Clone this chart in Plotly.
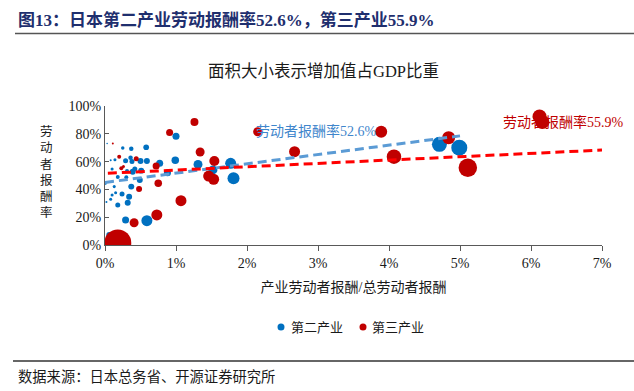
import plotly.graph_objects as go

# ---------------- data ----------------
# 第二产业: x = 产业劳动者报酬/总劳动者报酬 (%), y = 劳动者报酬率 (%), s = 增加值占GDP比重 (%)
sec_x = [0.06, 0.29, 0.59, 0.18, 0.32, 0.34, 0.24, 0.15, 0.10, 0.08, 0.02, 0.13, 0.37, 0.01,
         0.18, 0.49, 0.30, 0.10, 0.31, 0.39, 0.42, 0.51, 0.88, 0.08, 0.14, 0.29, 0.36, 0.38,
         0.50, 0.59, 0.77, 0.99, 0.25, 0.37, 0.58, 1.00, 1.31, 1.52, 1.77, 1.81, 4.71, 4.99, 0.03]
sec_y = [7.2, 18.0, 17.5, 28.8, 30.4, 34.7, 36.7, 37.6, 36.0, 32.9, 31.0, 42.0, 42.0, 44.0,
         49.0, 46.8, 48.7, 54.7, 53.2, 52.7, 54.7, 53.5, 52.0, 61.0, 61.4, 60.6, 62.8, 60.0,
         60.4, 60.4, 58.8, 61.0, 69.8, 69.3, 70.3, 78.2, 58.0, 54.0, 58.8, 48.0, 72.4, 70.0, 73.0]
sec_s = [0.59, 0.81, 1.99, 0.41, 0.59, 0.59, 0.41, 0.15, 0.15, 0.15, 0.066, 0.15, 0.59, 0.066,
         0.26, 0.59, 0.26, 0.15, 0.26, 0.59, 0.41, 0.59, 0.81, 0.066, 0.15, 0.41, 0.33, 0.41,
         0.59, 0.59, 0.81, 0.93, 0.20, 0.33, 0.53, 0.81, 1.33, 1.33, 1.99, 2.37, 3.70, 4.21, 0.037]

# 第三产业
ter_x = [0.18, 0.41, 0.73, 1.07, 0.48, 0.75, 0.23, 0.20, 0.11, 0.44, 0.72, 0.91, 1.26,
         1.34, 1.54, 1.46, 1.53, 2.15, 2.67, 3.89, 4.07, 4.84, 5.11, 6.12, 6.16, 0.26]
ter_y = [1.5, 16.0, 21.6, 31.9, 40.3, 44.4, 55.2, 63.5, 73.0, 62.0, 56.8, 81.0, 88.5,
         66.9, 60.4, 49.6, 47.3, 81.5, 67.1, 81.5, 63.5, 77.2, 55.6, 92.5, 88.5, 56.5]
ter_s = [12.0, 1.33, 1.99, 1.99, 0.59, 0.93, 0.26, 0.26, 0.066, 0.41, 0.81, 0.81, 1.05,
         1.33, 1.65, 1.99, 1.99, 1.33, 1.99, 2.37, 3.46, 2.78, 5.63, 3.23, 3.23, 0.15]

# trend lines (endpoints)
sec_trend_x = [0.0, 5.0]
sec_trend_y = [45.0, 78.5]
ter_trend_x = [0.04, 7.0]
ter_trend_y = [51.6, 68.3]

sec_label = "劳动者报酬率52.6%"
ter_label = "劳动者报酬率55.9%"
legend_names = ["第二产业", "第三产业"]

x_ticks = [0, 1, 2, 3, 4, 5, 6, 7]
y_ticks = [0, 20, 40, 60, 80, 100]

BLUE = "#0070C0"
RED = "#C00000"
SERIF = "'Liberation Serif', 'Noto Sans CJK SC', serif"

# ---------------- layout geometry ----------------
L, R, T, B = 105, 32, 106, 146
W, H = 634, 391
PW, PH = W - L - R, H - T - B


def px(xp):
    return (xp - L) / PW


def py(yp):
    return (H - B - yp) / PH


max_s = max(sec_s + ter_s)
sizeref = 2.0 * max_s / (27 ** 2)

fig = go.Figure()

fig.add_trace(go.Scatter(
    x=[v / 100 for v in sec_x], y=[v / 100 for v in sec_y], mode="markers",
    marker=dict(size=sec_s, sizemode="area", sizeref=sizeref, color=BLUE, opacity=1,
                line=dict(width=0)),
    showlegend=False, name=legend_names[0]))
fig.add_trace(go.Scatter(
    x=[v / 100 for v in ter_x], y=[v / 100 for v in ter_y], mode="markers",
    marker=dict(size=ter_s, sizemode="area", sizeref=sizeref, color=RED, opacity=1,
                line=dict(width=0)),
    showlegend=False, name=legend_names[1]))

fig.add_trace(go.Scatter(
    x=[v / 100 for v in sec_trend_x], y=[v / 100 for v in sec_trend_y], mode="lines",
    line=dict(color="#5B9BD5", width=3, dash="9px,5px"), showlegend=False, hoverinfo="skip"))
fig.add_trace(go.Scatter(
    x=[v / 100 for v in ter_trend_x], y=[v / 100 for v in ter_trend_y], mode="lines",
    line=dict(color="#FF0000", width=3, dash="9px,5px"), showlegend=False, hoverinfo="skip"))

annotations = [
    dict(text="图13：日本第二产业劳动报酬率52.6%，第三产业55.9%", xref="paper", yref="paper",
         x=px(16), y=py(20), xanchor="left", yanchor="middle", showarrow=False,
         font=dict(family=SERIF, size=17, color="#1F2F6E", weight="bold")),
    dict(text="面积大小表示增加值占GDP比重", xref="paper", yref="paper",
         x=px(323), y=py(71), xanchor="center", yanchor="middle", showarrow=False,
         font=dict(family=SERIF, size=16.5, color="#1a1a1a")),
    dict(text="<br>".join(list("劳动者报酬率")), xref="paper", yref="paper",
         x=px(46), y=py(172), xanchor="center", yanchor="middle", showarrow=False,
         font=dict(family=SERIF, size=12.5, color="#1a1a1a")),
    dict(text=sec_label, xref="x", yref="y", x=(316 - L) / PW * 0.07, y=0.82,
         xanchor="center", yanchor="middle", showarrow=False,
         font=dict(family=SERIF, size=14, color="#3F86CC")),
    dict(text=ter_label, xref="x", yref="y", x=(563.5 - L) / PW * 0.07, y=0.885,
         xanchor="center", yanchor="middle", showarrow=False,
         font=dict(family=SERIF, size=14, color=RED)),
    dict(text="数据来源：日本总务省、开源证券研究所", xref="paper", yref="paper",
         x=px(16), y=py(377), xanchor="left", yanchor="middle", showarrow=False,
         font=dict(family=SERIF, size=14.3, color="#1a1a1a")),
    # legend texts
    dict(text=legend_names[0], xref="paper", yref="paper",
         x=px(289), y=py(327), xanchor="left", yanchor="middle", showarrow=False,
         font=dict(family=SERIF, size=13, color="#1a1a1a")),
    dict(text=legend_names[1], xref="paper", yref="paper",
         x=px(370), y=py(327), xanchor="left", yanchor="middle", showarrow=False,
         font=dict(family=SERIF, size=13, color="#1a1a1a")),
]

shapes = [
    dict(type="line", xref="paper", yref="paper", x0=px(15), x1=px(634), y0=py(33.5), y1=py(33.5),
         line=dict(color="#555555", width=1.5)),
    dict(type="line", xref="paper", yref="paper", x0=px(13), x1=px(634), y0=py(361), y1=py(361),
         line=dict(color="#333333", width=1.5)),
    # legend symbols
    dict(type="circle", xref="paper", yref="paper", x0=px(277.5), x1=px(284.5),
         y0=py(330.5), y1=py(323.5), fillcolor=BLUE, line=dict(width=0)),
    dict(type="circle", xref="paper", yref="paper", x0=px(359.5), x1=px(366.5),
         y0=py(330.5), y1=py(323.5), fillcolor=RED, line=dict(width=0)),
]

fig.update_layout(
    width=W, height=H,
    margin=dict(l=L, r=R, t=T, b=B),
    paper_bgcolor="white", plot_bgcolor="white",
    font=dict(family=SERIF, size=14, color="#1a1a1a"),
    annotations=annotations, shapes=shapes,
    showlegend=False,
    xaxis=dict(range=[0, 0.07], tickvals=[v / 100 for v in x_ticks],
               ticktext=[f"{v}%" for v in x_ticks], showgrid=False, zeroline=False,
               showline=True, linecolor="#595959", linewidth=1,
               ticks="outside", ticklen=5, tickcolor="#595959",
               tickfont=dict(family=SERIF, size=14, color="#1a1a1a"),
               title=dict(text="产业劳动者报酬/总劳动者报酬", standoff=12,
                          font=dict(family=SERIF, size=14, color="#1a1a1a"))),
    yaxis=dict(range=[0, 1.0], tickvals=[v / 100 for v in y_ticks],
               ticktext=[f"{v}%" for v in y_ticks], showgrid=False, zeroline=False,
               showline=True, linecolor="#595959", linewidth=1,
               ticks="inside", ticklen=4, tickcolor="#595959",
               tickfont=dict(family=SERIF, size=14, color="#1a1a1a")),
)

fig.write_html("out.html", config={"displayModeBar": False},
               post_script="document.body.style.margin='0';document.body.style.padding='0';")
